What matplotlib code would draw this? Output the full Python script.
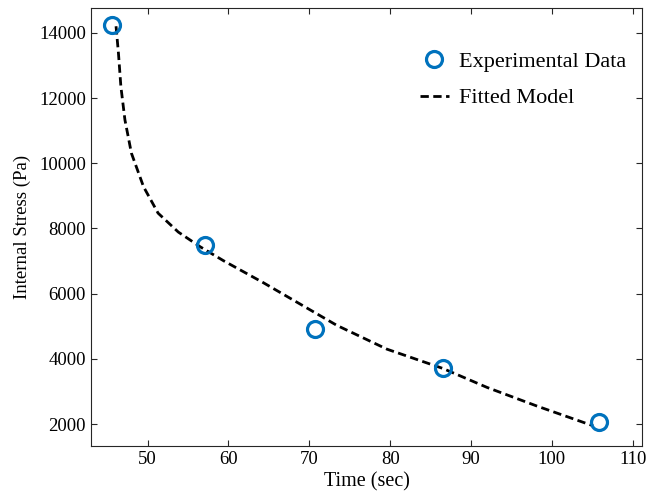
import matplotlib.pyplot as plt

plt.rcParams['font.family'] = ['Liberation Serif', 'DejaVu Serif']

# measured points
t_exp = [45.6, 57.1, 70.7, 86.5, 105.8]
s_exp = [14230, 7500, 4915, 3710, 2080]

# fitted model curve
t_fit = [46.1, 46.4, 46.7, 47.2, 48.0, 49.5, 51.3, 53.8, 56.5, 59.4,
         64.3, 69.3, 73.4, 79.6, 86.5, 92.0, 98.1, 105.1]
s_fit = [14200, 13370, 12350, 11330, 10310, 9280, 8470, 7890, 7440, 7010,
         6340, 5620, 5030, 4300, 3710, 3125, 2560, 1950]

xticks = [50, 60, 70, 80, 90, 100, 110]
yticks = [2000, 4000, 6000, 8000, 10000, 12000, 14000]

fig = plt.figure(figsize=(6.47, 5.03), dpi=100)
ax = fig.add_axes([0.1406, 0.1133, 0.8517, 0.8708])

ax.plot(t_exp, s_exp, 'o', ms=11.5, mfc='none', mec='#0072BD', mew=2.3,
        label='Experimental Data', zorder=3)
ax.plot(t_fit, s_fit, color='black', lw=2.0, dashes=(3.0, 1.6),
        label='Fitted Model')

ax.set_xlim(43, 111.15)
ax.set_ylim(1330, 14760)
ax.set_xticks(xticks)
ax.set_yticks(yticks)

ax.tick_params(direction='in', top=True, right=True, length=4.5,
               width=0.8, labelsize=13.5, color='#262626')
for sp in ax.spines.values():
    sp.set_linewidth(0.8)
    sp.set_color('#262626')

ax.set_xlabel('Time (sec)', fontsize=14.5, labelpad=3)
ax.set_ylabel('Internal Stress (Pa)', fontsize=13.5, labelpad=6)

ax.legend(loc='upper right', frameon=False, fontsize=16,
          bbox_to_anchor=(1.007, 0.946), handlelength=1.3, handletextpad=0.45,
          labelspacing=0.7)

fig.savefig('out.png', dpi=100)
